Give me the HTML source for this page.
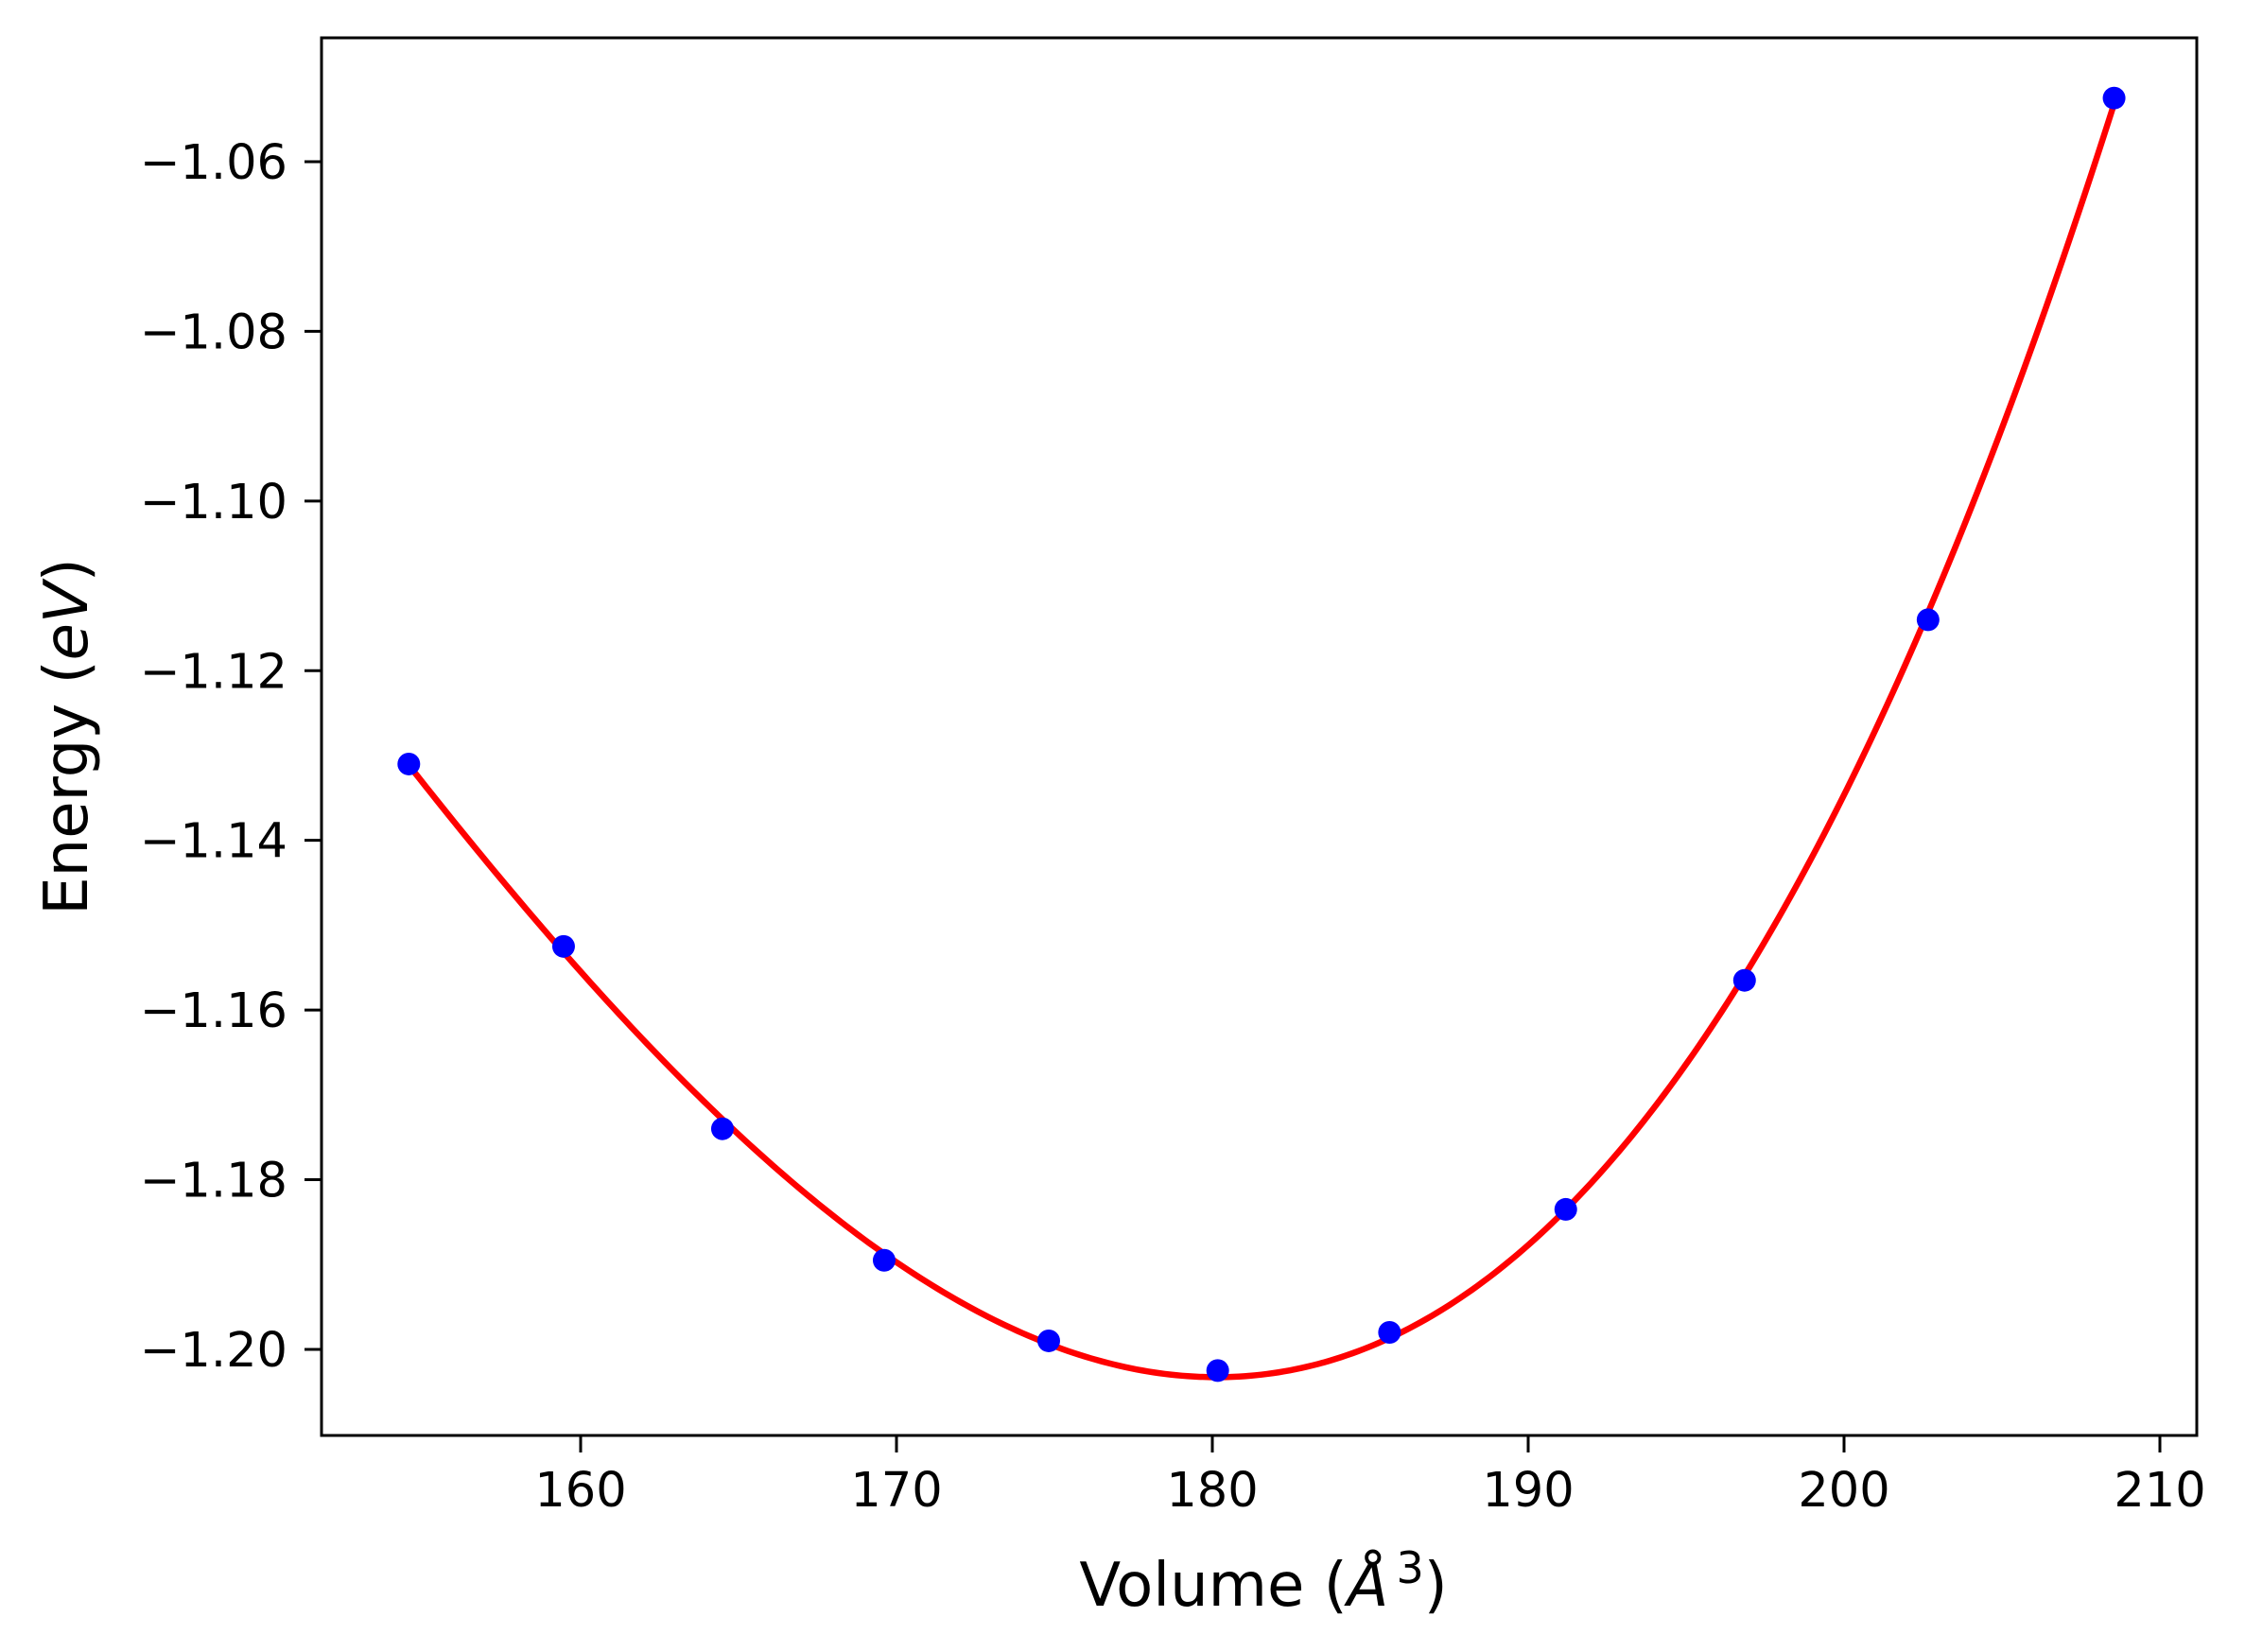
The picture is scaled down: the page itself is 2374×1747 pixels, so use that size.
<!DOCTYPE html>
<html><head><meta charset="utf-8"><style>
html,body{margin:0;padding:0;background:#fff;}
svg{display:block;font-family:"DejaVu Sans","Liberation Sans",sans-serif;}
</style></head><body>
<svg id="chart" xmlns="http://www.w3.org/2000/svg" width="2374" height="1747" viewBox="0 0 2374 1747"></svg>
<script>
const volumes = [154.56, 159.46, 164.49, 169.61, 174.82, 180.17, 185.61, 191.19, 196.85, 202.66, 208.55];
const energies = [-1.131, -1.1525, -1.174, -1.1895, -1.199, -1.2025, -1.198, -1.1835, -1.1565, -1.114, -1.0525];
const xTicks = [160, 170, 180, 190, 200, 210];
const yTicks = [-1.06, -1.08, -1.10, -1.12, -1.14, -1.16, -1.18, -1.20];

const NS = "http://www.w3.org/2000/svg";
const svg = document.getElementById('chart');
const L = 340, R = 2323, T = 40, B = 1518;
function X(v){ return 614 + (v - 160) * 33.4; }
function Y(e){ return 171 + (-1.06 - e) / 0.01 * 89.71; }
function mk(tag, attrs, parent){ const el = document.createElementNS(NS, tag); for (const k in attrs) el.setAttribute(k, attrs[k]); (parent||svg).appendChild(el); return el; }

function fit(xs, ys, deg){
  const m = xs.reduce((a,b)=>a+b,0)/xs.length;
  const n = deg+1, A = [], bb = [];
  for (let i=0;i<n;i++){ A.push(new Array(n).fill(0)); bb.push(0); }
  xs.forEach((x,k)=>{ const t=x-m; for(let i=0;i<n;i++){ for(let j=0;j<n;j++) A[i][j]+=Math.pow(t,i+j); bb[i]+=ys[k]*Math.pow(t,i);} });
  for (let i=0;i<n;i++){ let p=i; for(let r=i+1;r<n;r++) if(Math.abs(A[r][i])>Math.abs(A[p][i])) p=r;
    [A[i],A[p]]=[A[p],A[i]]; [bb[i],bb[p]]=[bb[p],bb[i]];
    for(let r=0;r<n;r++){ if(r===i) continue; const f=A[r][i]/A[i][i]; for(let c=i;c<n;c++) A[r][c]-=f*A[i][c]; bb[r]-=f*bb[i]; } }
  const c = bb.map((v,i)=>v/A[i][i]);
  return x => { const t=x-m; let s=0; for(let i=0;i<n;i++) s+=c[i]*Math.pow(t,i); return s; };
}
const f = fit(volumes, energies, 3);
const v0 = volumes[0], v1 = volumes[volumes.length-1];
let d = '';
for (let i=0;i<=300;i++){ const v = v0 + (v1-v0)*i/300; d += (i?'L':'M') + X(v).toFixed(2) + ',' + Y(f(v)).toFixed(2); }
const curve = mk('path', {d:d, fill:'none', stroke:'#ff0000', 'stroke-width':6.5, 'stroke-linecap':'butt'});



volumes.forEach((v,i)=>{
  const c = mk('circle', {cx:X(v), cy:Y(energies[i]), r:12, fill:'#0000ff'});
  
  
});

const frame = mk('rect', {x:L, y:T, width:R-L, height:B-T, fill:'none', stroke:'#000', 'stroke-width':3});



xTicks.forEach(t=>{
  const x = X(t);
  const tk = mk('line', {x1:x, x2:x, y1:B, y2:B+18, stroke:'#000', 'stroke-width':3});
  
  
  const lb = mk('text', {x:x, y:B+75, 'font-size':51, 'text-anchor':'middle'});
  
  
  lb.textContent = String(t);
});
yTicks.forEach(t=>{
  const y = Y(t);
  const tk = mk('line', {x1:L-18, x2:L, y1:y, y2:y, stroke:'#000', 'stroke-width':3});
  
  
  const lb = mk('text', {x:L-36, y:y+18, 'font-size':51, 'text-anchor':'end'});
  
  
  lb.textContent = '\u2212' + Math.abs(t).toFixed(2);
});
</script>
<svg style="position:absolute;left:0;top:0" width="2374" height="1747">
<text x="1336" y="1698" font-size="64" text-anchor="middle" font-family="DejaVu Sans, Liberation Sans, sans-serif">Volume (<tspan font-style="italic">Å</tspan><tspan dx="8" dy="-24" font-size="46">3</tspan><tspan dy="24">)</tspan></text>
<text x="0" y="0" transform="translate(92,779) rotate(-90)" font-size="64" text-anchor="middle" font-family="DejaVu Sans, Liberation Sans, sans-serif">Energy (<tspan font-style="italic">eV</tspan>)</text>
</svg>
</body></html>
